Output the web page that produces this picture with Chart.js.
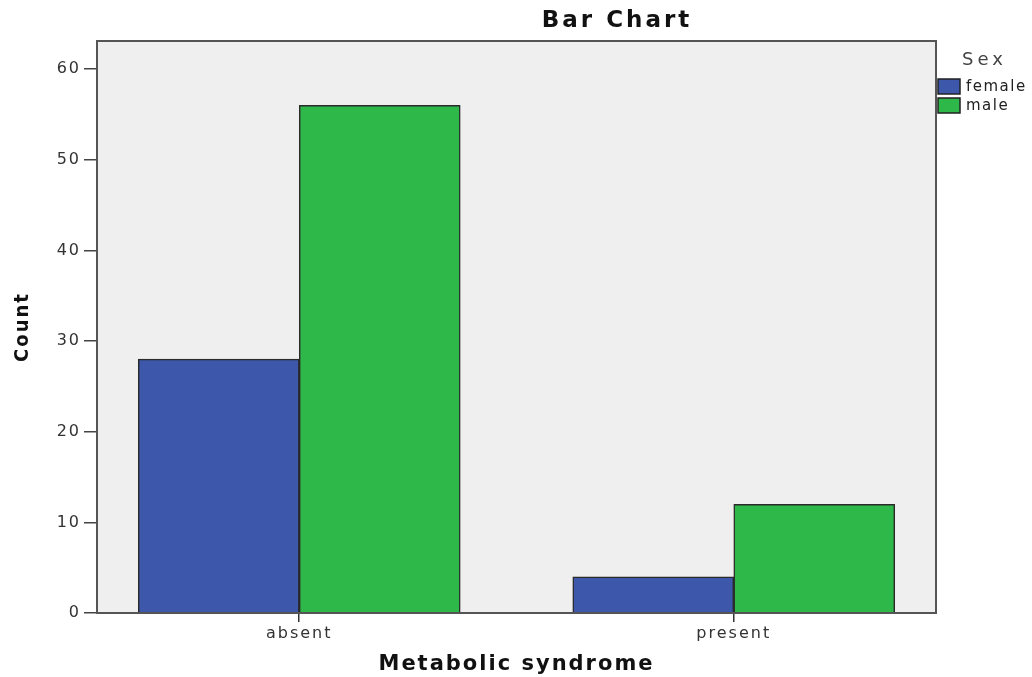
<!DOCTYPE html>
<html>
<head>
<meta charset="utf-8">
<script src="https://cdn.jsdelivr.net/npm/chart.js@4"></script>
<style>
  html, body { margin: 0; padding: 0; background: #fff; }
  #wrap { width: 1032px; height: 677px; }
</style>
</head>
<body>
<div id="wrap"><canvas id="chart" width="1032" height="677"></canvas></div>
<script>
// data
const categories = ['absent', 'present'];
const seriesNames = ['female', 'male'];
const femaleCounts = [28, 4];
const maleCounts = [56, 12];
const yTicks = [0, 10, 20, 30, 40, 50, 60];
const colors = ['#3d57aa', '#2fb84a'];

const FONT = '"DejaVu Sans", sans-serif';

// plot background + frame, like SPSS
const frame = {
  id: 'frame',
  beforeDraw(chart) {
    const { ctx, chartArea: a } = chart;
    ctx.save();
    ctx.fillStyle = '#fff';
    ctx.fillRect(0, 0, chart.width, chart.height);
    ctx.fillStyle = '#efefef';
    ctx.fillRect(a.left, a.top, a.right - a.left, a.bottom - a.top);
    ctx.restore();
    // SPSS text looks stretched, spread the letters a bit
    ctx.letterSpacing = '2px';
  },
  afterDraw(chart) {
    const { ctx, chartArea: a } = chart;
    ctx.save();
    ctx.strokeStyle = '#555';
    ctx.lineWidth = 2;
    ctx.strokeRect(a.left, a.top, a.right - a.left, a.bottom - a.top);

    // chart title (sits right of centre in the original)
    ctx.letterSpacing = '3px';
    ctx.fillStyle = '#111';
    ctx.font = 'bold 23px ' + FONT;
    ctx.textAlign = 'center';
    ctx.textBaseline = 'middle';
    ctx.fillText('Bar Chart', 617, 21);

    // legend
    ctx.letterSpacing = '4px';
    ctx.fillStyle = '#444';
    ctx.font = '18px ' + FONT;
    ctx.textAlign = 'left';
    ctx.fillText('Sex', 962, 60);
    ctx.letterSpacing = '1.5px';
    ctx.font = '15px ' + FONT;
    chart.data.datasets.forEach((ds, i) => {
      const y = 79 + i * 19;
      ctx.fillStyle = ds.backgroundColor;
      ctx.fillRect(938, y, 22, 15);
      ctx.strokeStyle = '#222';
      ctx.lineWidth = 1.5;
      ctx.strokeRect(938, y, 22, 15);
      ctx.fillStyle = '#222';
      ctx.fillText(ds.label, 966, y + 8);
    });
    ctx.restore();
    ctx.letterSpacing = '0px';
  }
};

const toPoints = vals => vals.map((v, i) => ({ x: i, y: v }));

new Chart(document.getElementById('chart'), {
  type: 'bar',
  data: {
    datasets: [
      { label: seriesNames[0], data: toPoints(femaleCounts), backgroundColor: colors[0] },
      { label: seriesNames[1], data: toPoints(maleCounts), backgroundColor: colors[1] }
    ]
  },
  options: {
    responsive: false,
    devicePixelRatio: 1,
    animation: false,
    layout: { padding: { top: 41, right: 96, left: 0, bottom: 0 } },
    datasets: {
      bar: { barThickness: 161, borderColor: '#2a2a2a', borderWidth: 1.5 }
    },
    plugins: {
      legend: { display: false },
      tooltip: { enabled: false }
    },
    scales: {
      x: {
        type: 'linear',
        offset: false,
        min: -0.4654,
        max: 1.4654,
        afterFit(s) { s.height = 64; },
        afterBuildTicks(s) { s.ticks = categories.map((c, i) => ({ value: i })); },
        grid: { offset: false, drawOnChartArea: false, tickLength: 9, color: '#333', lineWidth: 1.5 },
        border: { display: false },
        ticks: {
          padding: 2,
          color: '#333',
          font: { family: FONT, size: 16 },
          callback: v => categories[v]
        },
        title: {
          display: true,
          text: 'Metabolic syndrome',
          color: '#111',
          font: { family: FONT, size: 21, weight: 'bold' },
          padding: { top: 0, bottom: 0 }
        }
      },
      y: {
        min: 0,
        max: 63.1,
        afterFit(s) { s.width = 97; },
        afterBuildTicks(s) { s.ticks = yTicks.map(v => ({ value: v })); },
        grid: { drawOnChartArea: false, tickLength: 13, color: '#444', lineWidth: 1.5 },
        border: { display: false },
        ticks: {
          padding: 3,
          color: '#333',
          font: { family: FONT, size: 16 }
        },
        title: {
          display: true,
          text: 'Count',
          color: '#111',
          font: { family: '"Liberation Sans Narrow", "DejaVu Sans Condensed", sans-serif', size: 20, weight: 'bold' },
          padding: { top: 11, bottom: 0 }
        }
      }
    }
  },
  plugins: [frame]
});
</script>
</body>
</html>
